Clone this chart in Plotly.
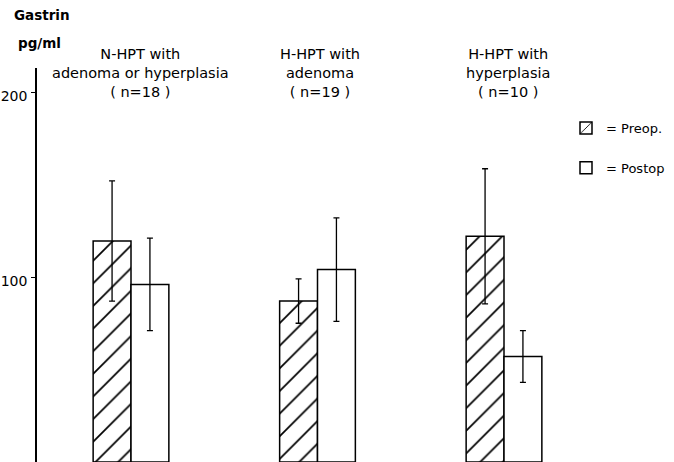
import plotly.graph_objects as go

groups = ["N-HPT with<br>adenoma or hyperplasia<br>( n=18 )",
          "H-HPT with<br>adenoma<br>( n=19 )",
          "H-HPT with<br>hyperplasia<br>( n=10 )"]
preop_mean = [119.5, 87, 122]
preop_sd = [32.5, 12, 36.5]
postop_mean = [96, 104, 57]
postop_sd = [25, 28, 14]
ytick_vals = [100, 200]
ytick_text = ["100", "200"]

FONT = "DejaVu Sans"
idx = [0, 1, 2]

fig = go.Figure()
fig.add_trace(go.Bar(
    x=idx, y=preop_mean, name="= Preop.", legendgroup="a",
    marker=dict(color="white", line=dict(color="black", width=1.5),
                pattern=dict(shape="/", size=16, solidity=0.11,
                             fgcolor="black", bgcolor="white", fgopacity=1)),
    error_y=dict(type="data", array=preop_sd, color="black", thickness=1.3, width=3),
))
fig.add_trace(go.Bar(
    x=idx, y=postop_mean, name="= Postop", legendgroup="b",
    marker=dict(color="white", line=dict(color="black", width=1.5)),
    error_y=dict(type="data", array=postop_sd, color="black", thickness=1.3, width=3),
))

W, H = 674, 462
ml, mr, mt, mb = 37, 100, 68, 0
pw = W - ml - mr
ph = H - mt - mb
pxu = 186.5
x0 = -(131 - 37) / pxu
x1 = x0 + pw / pxu


def px(rx):
    return (rx - 37) / pw


def py(ry):
    return (462 - ry) / ph


annotations = []
shifts = [9, 2, 4]
for i, g in enumerate(groups):
    annotations.append(dict(x=i, xref="x", y=py(73), yref="paper",
                            text=g, showarrow=False, xshift=shifts[i],
                            font=dict(family=FONT, size=14.5, color="black"),
                            align="center", xanchor="center", yanchor="middle"))
annotations.append(dict(x=px(12), xref="paper", y=py(15), yref="paper",
                        text="<b>Gastrin</b>", showarrow=False, xanchor="left", yanchor="middle",
                        font=dict(family=FONT, size=13.5, color="black")))
annotations.append(dict(x=px(16), xref="paper", y=py(43), yref="paper",
                        text="<b>pg/ml</b>", showarrow=False, xanchor="left", yanchor="middle",
                        font=dict(family=FONT, size=13.5, color="black")))

fig.update_layout(
    width=W, height=H,
    margin=dict(l=ml, r=mr, t=mt, b=mb, pad=0, autoexpand=False),
    paper_bgcolor="white", plot_bgcolor="white",
    barmode="group", bargap=0.594, bargroupgap=0,
    font=dict(family=FONT, size=14, color="black"),
    xaxis=dict(range=[x0, x1], showticklabels=False, ticks="", showgrid=False,
               zeroline=False, showline=False, automargin=False),
    yaxis=dict(range=[0, ph / 1.85], tickvals=ytick_vals, ticktext=ytick_text,
               ticks="outside", ticklen=4, tickcolor="black", tickwidth=1.3,
               showgrid=False, zeroline=False, showline=True, linecolor="black",
               linewidth=1.5, ticklabelshift=4, ticklabelstandoff=1, automargin=False,
               tickfont=dict(family=FONT, size=14, color="black")),
    legend=dict(x=px(566), xref="paper", y=py(113), yref="paper",
                xanchor="left", yanchor="top", traceorder="grouped",
                tracegroupgap=20, bgcolor="rgba(0,0,0,0)",
                font=dict(family=FONT, size=13, color="black")),
    annotations=annotations,
)

fig.write_html("out.html", config={"displayModeBar": False},
               post_script="document.body.style.margin='0';document.body.style.overflow='hidden';")
